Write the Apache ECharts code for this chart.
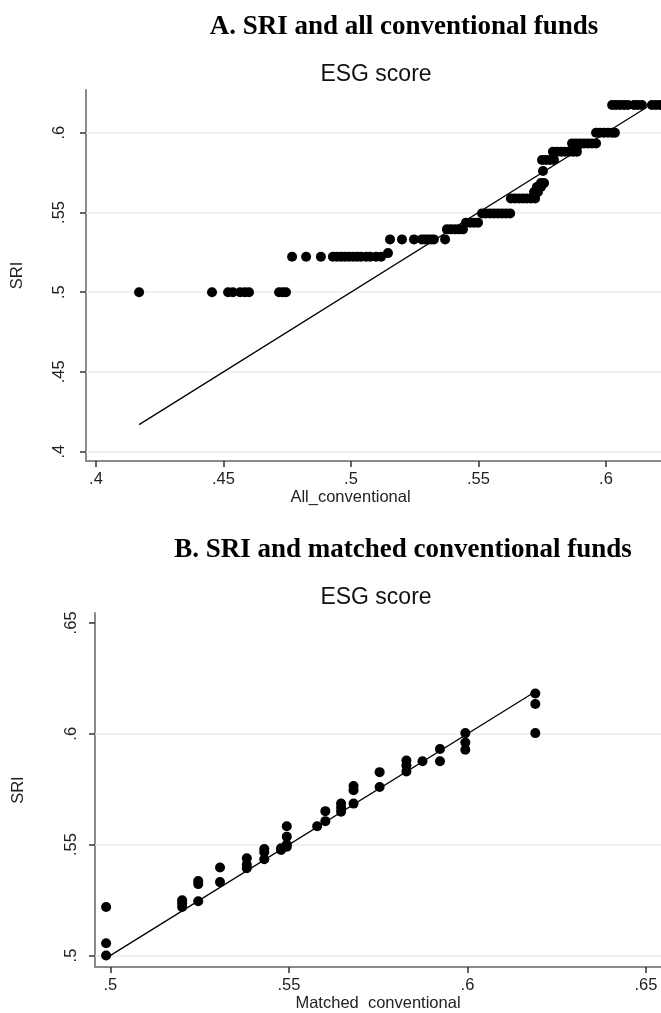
<!DOCTYPE html>
<html><head><meta charset="utf-8">
<script src="https://cdn.jsdelivr.net/npm/echarts@6/dist/echarts.min.js"></script>
<style>html,body{margin:0;padding:0;background:#fff}#c{width:661px;height:1013px}</style>
</head><body><div id="c"></div>
<script>
// ---------- data ----------
const titleA = 'A. SRI and all conventional funds';
const titleB = 'B. SRI and matched conventional funds';
const subTitle = 'ESG score';
const yName = 'SRI';
const xNameA = 'All_conventional';
const xNameB = 'Matched  conventional';

const xTicksA = [0.4, 0.45, 0.5, 0.55, 0.6];
const yTicksA = [0.4, 0.45, 0.5, 0.55, 0.6];
const gridYA = [0.4, 0.45, 0.5, 0.55, 0.6];
const xTicksB = [0.5, 0.55, 0.6, 0.65];
const yTicksB = [0.5, 0.55, 0.6, 0.65];
const gridYB = [0.5, 0.55, 0.6];

// Panel A: quantiles (all conventional vs SRI)
const aX = [
  0.4169, 0.4455, 0.4518, 0.4537, 0.4565, 0.4584, 0.4600, 0.4718, 0.4733, 0.4745,
  0.4769, 0.4824, 0.4882, 0.4929, 0.4945, 0.4961, 0.4976, 0.4992, 0.5008, 0.5024, 0.5039, 0.5059, 0.5075, 0.5098, 0.5118,
  0.5145,
  0.5153, 0.5200, 0.5247, 0.5278, 0.5290, 0.5302, 0.5314, 0.5325, 0.5369,
  0.5376, 0.5392, 0.5408, 0.5424, 0.5439,
  0.5451, 0.5467, 0.5482, 0.5498,
  0.5514, 0.5529, 0.5545, 0.5561, 0.5576, 0.5592, 0.5608, 0.5624,
  0.5627, 0.5643, 0.5659, 0.5675, 0.5690, 0.5706, 0.5722,
  0.5718, 0.5733,
  0.5729, 0.5745,
  0.5745, 0.5757,
  0.5753,
  0.5749, 0.5765, 0.5780, 0.5796,
  0.5792, 0.5808, 0.5824, 0.5839, 0.5855, 0.5871, 0.5886,
  0.5867, 0.5882, 0.5898, 0.5914, 0.5929, 0.5945, 0.5961,
  0.5961, 0.5976, 0.5992, 0.6008, 0.6024, 0.6035,
  0.6024, 0.6039, 0.6055, 0.6071, 0.6086, 0.6110, 0.6125, 0.6141, 0.6180, 0.6196, 0.6212
];
const aY = [
  0.500, 0.500, 0.500, 0.500, 0.500, 0.500, 0.500, 0.500, 0.500, 0.500,
  0.5222, 0.5222, 0.5222, 0.5222, 0.5222, 0.5222, 0.5222, 0.5222, 0.5222, 0.5222, 0.5222, 0.5222, 0.5222, 0.5222, 0.5222,
  0.5245,
  0.5331, 0.5331, 0.5331, 0.5331, 0.5331, 0.5331, 0.5331, 0.5331, 0.5331,
  0.5394, 0.5394, 0.5394, 0.5394, 0.5394,
  0.5436, 0.5436, 0.5436, 0.5436,
  0.5494, 0.5494, 0.5494, 0.5494, 0.5494, 0.5494, 0.5494, 0.5494,
  0.5588, 0.5588, 0.5588, 0.5588, 0.5588, 0.5588, 0.5588,
  0.5628, 0.5628,
  0.5660, 0.5660,
  0.5684, 0.5684,
  0.5760,
  0.5829, 0.5829, 0.5829, 0.5829,
  0.5881, 0.5881, 0.5881, 0.5881, 0.5881, 0.5881, 0.5881,
  0.5933, 0.5933, 0.5933, 0.5933, 0.5933, 0.5933, 0.5933,
  0.6000, 0.6000, 0.6000, 0.6000, 0.6000, 0.6000,
  0.6174, 0.6174, 0.6174, 0.6174, 0.6174, 0.6174, 0.6174, 0.6174, 0.6174, 0.6174, 0.6174
];
const lineA = [0.4169, 0.6160];

// Panel B: quantiles (matched conventional vs SRI)
const bX = [
  0.4988, 0.4988, 0.4988,
  0.5201, 0.5201, 0.5201,
  0.5246, 0.5246, 0.5246,
  0.5307, 0.5307,
  0.5382, 0.5382, 0.5382,
  0.5431, 0.5431, 0.5431,
  0.5478, 0.5478,
  0.5494, 0.5494, 0.5494, 0.5494,
  0.5579,
  0.5602, 0.5602,
  0.5646, 0.5646, 0.5646,
  0.5681, 0.5681, 0.5681,
  0.5754, 0.5754,
  0.5829, 0.5829, 0.5829,
  0.5874,
  0.5923, 0.5923,
  0.5994, 0.5994, 0.5994,
  0.6190, 0.6190, 0.6190
];
const bY = [
  0.5000, 0.5055, 0.5219,
  0.5249, 0.5234, 0.5219,
  0.5336, 0.5322, 0.5245,
  0.5397, 0.5331,
  0.5439, 0.5409, 0.5394,
  0.5480, 0.5466, 0.5434,
  0.5484, 0.5476,
  0.5583, 0.5536, 0.5501, 0.5491,
  0.5583,
  0.5651, 0.5606,
  0.5685, 0.5666, 0.5648,
  0.5764, 0.5745, 0.5685,
  0.5827, 0.5760,
  0.5879, 0.5857, 0.5830,
  0.5876,
  0.5931, 0.5876,
  0.6003, 0.5961, 0.5928,
  0.6182, 0.6134, 0.6003
];
const lineB = [0.4988, 0.6185];

// ---------- chart ----------
const fmt = v => String(+v.toFixed(3)).replace(/^0\./, '.');
const axisLineStyle = { color: '#8a8a8a', width: 2 };
const tickStyle = { color: '#333', width: 1.5 };
const labelFont = { fontFamily: 'Liberation Sans, Arial, sans-serif', fontSize: 16.5, color: '#222' };

function xAxisCfg(gi, min, max, ticks, name, pad, gap) {
  return {
    type: 'value', gridIndex: gi, min, max,
    name, nameLocation: 'middle', nameGap: gap,
    nameTextStyle: Object.assign({ padding: pad }, labelFont),
    axisLine: { show: true, onZero: false, lineStyle: axisLineStyle },
    axisTick: { show: true, length: 6, lineStyle: tickStyle, customValues: ticks },
    axisLabel: Object.assign({ customValues: ticks, formatter: fmt, margin: 10 }, labelFont),
    splitLine: { show: false }
  };
}
function yAxisCfg(gi, min, max, ticks, gap, lmargin) {
  return {
    type: 'value', gridIndex: gi, min, max,
    name: yName, nameLocation: 'middle', nameGap: gap, nameRotate: 90,
    nameTextStyle: labelFont,
    axisLine: { show: true, onZero: false, lineStyle: axisLineStyle },
    axisTick: { show: true, length: 6, lineStyle: tickStyle, customValues: ticks },
    axisLabel: Object.assign({ customValues: ticks, formatter: fmt, rotate: 90, margin: lmargin }, labelFont),
    splitLine: { show: false }
  };
}
function gridSeries(xi, vals) {
  return {
    type: 'line', xAxisIndex: xi, yAxisIndex: xi, z: 1, data: [], silent: true,
    markLine: {
      z: 1, silent: true, symbol: ['none', 'none'], label: { show: false },
      lineStyle: { color: '#e7edf1', width: 1.5, type: 'solid' },
      emphasis: { disabled: true },
      data: vals.map(v => ({ yAxis: v }))
    }
  };
}

const titleFont = 'bold 27px "Liberation Serif", "Times New Roman", serif';
const subFont = '23px "Liberation Sans", Arial, sans-serif';

const option = {
  backgroundColor: '#fff',
  animation: false,
  graphic: [
    { type: 'text', style: { x: 404, y: 27, text: titleA, font: titleFont, fill: '#000', textAlign: 'center', textVerticalAlign: 'middle' } },
    { type: 'text', style: { x: 376, y: 75, text: subTitle, font: subFont, fill: '#111', textAlign: 'center', textVerticalAlign: 'middle' } },
    { type: 'text', style: { x: 403, y: 550, text: titleB, font: titleFont, fill: '#000', textAlign: 'center', textVerticalAlign: 'middle' } },
    { type: 'text', style: { x: 376, y: 598, text: subTitle, font: subFont, fill: '#111', textAlign: 'center', textVerticalAlign: 'middle' } }
  ],
  grid: [
    { left: 86, top: 90, width: 575, height: 371 },
    { left: 95, top: 613, width: 566, height: 357 }
  ],
  xAxis: [
    xAxisCfg(0, 0.39608, 0.62157, xTicksA, xNameA, [0, 46, 0, 0], 25),
    xAxisCfg(1, 0.49569, 0.6542, xTicksB, xNameB, [0, 0, 0, 0], 24)
  ],
  yAxis: [
    yAxisCfg(0, 0.3941, 0.6268, yTicksA, 60, 18),
    yAxisCfg(1, 0.49477, 0.65447, yTicksB, 68, 15)
  ],
  series: [
    gridSeries(0, gridYA),
    {
      type: 'line', xAxisIndex: 0, yAxisIndex: 0, z: 2,
      data: lineA.map(v => [v, v]), symbol: 'none', silent: true,
      lineStyle: { color: '#000', width: 1.3 }
    },
    {
      type: 'scatter', xAxisIndex: 0, yAxisIndex: 0, z: 3,
      data: aX.map((x, i) => [x, aY[i]]),
      symbol: 'circle', symbolSize: 10, itemStyle: { color: '#000', opacity: 1 }, silent: true
    },
    gridSeries(1, gridYB),
    {
      type: 'line', xAxisIndex: 1, yAxisIndex: 1, z: 2,
      data: lineB.map(v => [v, v]), symbol: 'none', silent: true,
      lineStyle: { color: '#000', width: 1.3 }
    },
    {
      type: 'scatter', xAxisIndex: 1, yAxisIndex: 1, z: 3,
      data: bX.map((x, i) => [x, bY[i]]),
      symbol: 'circle', symbolSize: 10, itemStyle: { color: '#000', opacity: 1 }, silent: true
    }
  ]
};
const chart = echarts.init(document.getElementById('c'), null, { renderer: 'canvas' });
chart.setOption(option);
</script>
</body></html>
